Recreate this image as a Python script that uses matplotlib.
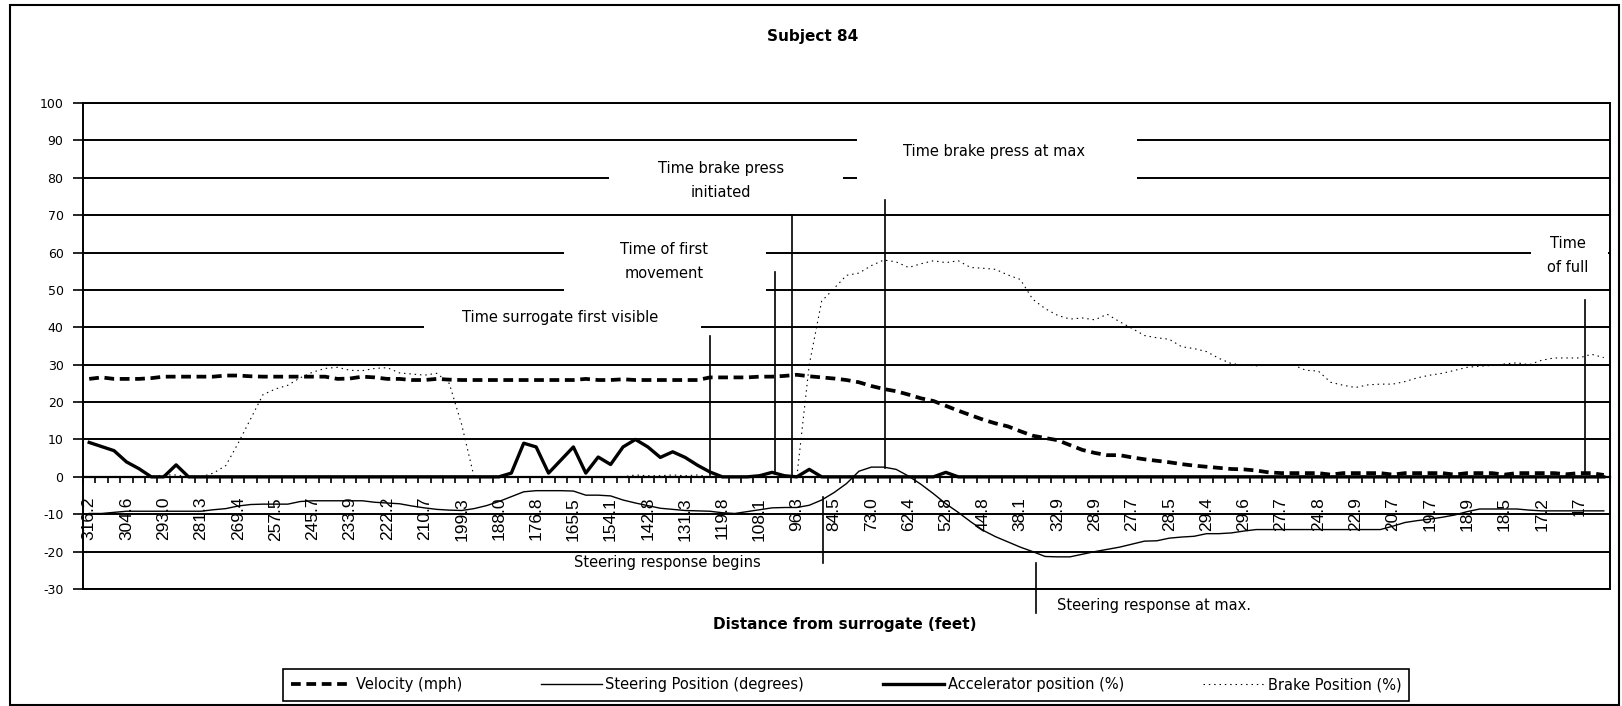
import numpy as np
import matplotlib
matplotlib.use("Agg")
import matplotlib.pyplot as plt
from matplotlib.patches import Rectangle

plt.rcParams["axes.unicode_minus"] = False

# distance from surrogate (feet), one label for every third sample
distance_labels = ["316.2", "304.6", "293.0", "281.3", "269.4", "257.5", "245.7", "233.9",
                   "222.2", "210.7", "199.3", "188.0", "176.8", "165.5", "154.1", "142.8",
                   "131.3", "119.8", "108.1", "96.3", "84.5", "73.0", "62.4", "52.8",
                   "44.8", "38.1", "32.9", "28.9", "27.7", "28.5", "29.4", "29.6",
                   "27.7", "24.8", "22.9", "20.7", "19.7", "18.9", "18.5", "17.2", "17"]

velocity = [26.2, 26.6, 26.2, 26.2, 26.2, 26.4, 26.8, 26.8, 26.8, 26.8,
            26.8, 27.1, 27.1, 26.9, 26.8, 26.8, 26.8, 26.8, 26.8, 26.8,
            26.2, 26.3, 26.8, 26.6, 26.2, 26.2, 25.9, 25.9, 26.2, 26.0,
            25.9, 25.9, 25.9, 25.9, 25.9, 25.9, 25.9, 25.9, 25.9, 25.9,
            26.2, 25.9, 25.9, 26.1, 25.9, 25.9, 25.9, 25.9, 25.9, 25.9,
            26.6, 26.6, 26.6, 26.6, 26.8, 26.8, 27.0, 27.3, 26.9, 26.6,
            26.3, 25.9, 25.3, 24.3, 23.5, 22.9, 22.0, 21.0, 20.3, 19.0,
            17.7, 16.5, 15.3, 14.3, 13.5, 12.2, 11.0, 10.4, 9.8, 8.5,
            7.2, 6.4, 5.8, 5.8, 5.2, 4.7, 4.3, 3.9, 3.4, 3.0,
            2.7, 2.4, 2.1, 2.0, 1.7, 1.2, 1.0, 1.0, 1.0, 1.0,
            0.6, 1.0, 1.0, 1.0, 1.0, 0.6, 1.0, 1.0, 1.0, 1.0,
            0.6, 1.0, 1.0, 1.0, 0.6, 1.0, 1.0, 1.0, 1.0, 0.7,
            1.0, 1.0, 0.5]

steering = [-9.8, -9.8, -9.5, -9.2, -9.2, -9.2, -9.2, -9.2, -9.2, -9.2,
            -8.8, -8.5, -7.8, -7.4, -7.3, -7.3, -7.3, -6.6, -6.4, -6.4,
            -6.4, -6.4, -6.4, -6.8, -7.0, -7.2, -7.8, -8.3, -8.7, -8.9,
            -9.0, -8.5, -7.7, -6.6, -5.3, -4.0, -3.7, -3.7, -3.7, -3.8,
            -4.9, -4.9, -5.1, -6.2, -7.0, -7.7, -8.4, -8.7, -9.0, -9.1,
            -9.2, -9.6, -9.8, -9.3, -8.8, -8.3, -8.2, -8.2, -7.6, -6.2,
            -4.2, -1.8, 1.5, 2.6, 2.6, 2.0, 0.2, -2.0, -4.5, -7.2,
            -9.5, -12.0, -14.3, -16.0, -17.4, -18.8, -20.0, -21.3, -21.4, -21.4,
            -20.7, -20.0, -19.4, -18.8, -18.0, -17.2, -17.1, -16.4, -16.1, -15.9,
            -15.2, -15.2, -15.0, -14.5, -14.1, -14.1, -14.1, -14.1, -14.1, -14.1,
            -14.1, -14.1, -14.1, -14.1, -14.1, -13.2, -12.2, -11.7, -11.3, -10.8,
            -10.2, -9.3, -8.6, -8.6, -8.6, -8.6, -8.9, -9.1, -9.1, -9.1,
            -9.1, -9.1, -9.1]

accelerator = [9.2, 8.1, 7.0, 4.0, 2.2, 0, 0, 3.2, 0, 0,
               0, 0, 0, 0, 0, 0, 0, 0, 0, 0,
               0, 0, 0, 0, 0, 0, 0, 0, 0, 0,
               0, 0, 0, 0, 1.0, 9.0, 8.0, 1.0, 4.5, 8.0,
               1.0, 5.3, 3.3, 8.0, 10.0, 8.0, 5.2, 6.7, 5.2, 3.1,
               1.3, 0, 0, 0, 0.3, 1.2, 0.3, 0, 2.0, 0,
               0, 0, 0, 0, 0, 0, 0, 0, 0, 1.2,
               0, 0, 0, 0, 0, 0, 0, 0, 0, 0,
               0, 0, 0, 0, 0, 0, 0, 0, 0, 0,
               0, 0, 0, 0, 0, 0, 0, 0, 0, 0,
               0, 0, 0, 0, 0, 0, 0, 0, 0, 0,
               0, 0, 0, 0, 0, 0, 0, 0, 0, 0,
               0, 0, 0]

brake = [0, 0, 0, 0, 0, 0, 0.5, 0.5, 0, 0,
         1.0, 3.0, 9.0, 15.5, 22.0, 23.5, 24.5, 26.5, 28.0, 29.0,
         29.3, 28.5, 28.4, 29.0, 29.2, 27.8, 27.5, 27.2, 27.7, 25.0,
         14.0, 0, 0, 0, 0, 0, 0, 0, 0, 0,
         0, 0, 0, 0, 0.5, 0.3, 0.3, 0.5, 0.3, 0.5,
         0, 0, 0, 0, 0, 0, 0, 0, 30.0, 47.0,
         50.4, 53.9, 54.5, 56.5, 58.0, 57.5, 56.0, 57.0, 57.8, 57.3,
         57.8, 56.0, 55.8, 55.5, 54.0, 52.8, 47.5, 45.0, 43.2, 42.2,
         42.5, 42.0, 43.5, 41.5, 39.7, 37.8, 37.2, 36.8, 34.8, 34.3,
         33.5, 31.7, 30.3, 29.9, 29.7, 29.9, 29.9, 29.9, 28.5, 28.3,
         25.3, 24.5, 23.9, 24.6, 24.8, 24.8, 25.5, 26.5, 27.2, 27.7,
         28.5, 29.3, 29.6, 29.8, 30.2, 30.5, 30.0, 31.2, 31.8, 31.8,
         31.8, 32.8, 31.9]

n = len(velocity)
x = np.arange(n)

W, H = 1622, 706
fig = plt.figure(figsize=(W / 100, H / 100), dpi=100)
ax = fig.add_axes([83 / W, 1 - 589 / H, (1610 - 83) / W, (589 - 103) / H])

# outer chart border
fig.patches.append(Rectangle((10 / W, 1.5 / H), (1619 - 10) / W, (701 - 1.5) / H,
                             transform=fig.transFigure, fill=False,
                             edgecolor="black", linewidth=1.5))

ax.plot(x, velocity, color="black", lw=2.7, ls=(0, (2.6, 1.5)),
        label="Velocity (mph)", zorder=4)
ax.plot(x, steering, color="black", lw=1.0,
        label="Steering Position (degrees)", zorder=3)
ax.plot(x, accelerator, color="black", lw=2.4,
        label="Accelerator position (%)", zorder=4)
ax.plot(x, brake, color="black", lw=0.8, ls=(0, (1.3, 3.5)),
        label="Brake Position (%)", zorder=3)

ax.set_xlim(-0.5, n - 0.5)
ax.set_ylim(-30, 100)
ax.set_yticks(np.arange(-30, 101, 10))
ax.yaxis.grid(True, color="black", lw=1.4)
ax.set_axisbelow(True)
ax.axhline(-30, color="black", lw=1.4, clip_on=False, zorder=0.6)

for side in ["left", "right", "top"]:
    ax.spines[side].set_linewidth(1.4)
ax.spines["bottom"].set_position(("data", 0))
ax.spines["bottom"].set_linewidth(1.6)

ax.set_xticks(x[::3], distance_labels, rotation=90)
ax.set_xticks(np.arange(n + 1) - 0.5, minor=True)
ax.tick_params(axis="x", which="major", length=0, pad=14.5,
               labelsize=12.5, labelfontfamily="Liberation Sans")
ax.tick_params(axis="x", which="minor", length=4.5, width=1.2, direction="out")
ax.tick_params(axis="y", length=7, width=1.2, pad=7, labelsize=9,
               labelfontfamily="DejaVu Sans")

note_font = dict(fontsize=10.5, family="DejaVu Sans", color="black")


def note(text, tx, ty, box=None, ha="center"):
    # white text box that hides the gridlines behind it
    if box is not None:
        x0, x1, y0, y1 = box
        ax.add_patch(Rectangle((x0, y0), x1 - x0, y1 - y0, facecolor="white",
                               edgecolor="none", zorder=1, clip_on=False))
    ax.text(tx, ty, text, ha=ha, va="center", linespacing=1.75,
            zorder=6, clip_on=False, **note_font)


def marker_line(xpos, y0, y1):
    ax.plot([xpos, xpos], [y0, y1], color="black", lw=1.2, zorder=5, clip_on=False)


note("Time surrogate first visible", 37.9, 42.6, box=(26.97, 49.28, 39.8, 45.3))
note("Time of first\nmovement", 46.3, 57.6, box=(38.24, 54.51, 48.1, 65.1))
note("Time brake press\ninitiated", 50.9, 79.2, box=(41.9, 60.7, 72.4, 87.9))
note("Time brake press at max", 72.9, 87.1, box=(61.85, 84.4, 77.7, 92.7))
note("Time\nof full", 119.1, 59.2, box=(116.1, 122.3, 51.8, 67.1))
note("Steering response begins", 46.6, -22.8)
note("Steering response at max.", 77.95, -34.3, ha="left")

marker_line(50.0, 0.5, 37.6)
marker_line(55.24, 0.8, 54.7)
marker_line(56.65, 0.5, 70.0)
marker_line(64.1, 2.5, 74.0)
marker_line(120.5, 1.2, 47.2)
marker_line(59.1, -23.1, -5.4)
marker_line(76.3, -36.5, -23.0)

fig.text(813 / W, 1 - 36 / H, "Subject 84", ha="center", va="center",
         fontsize=11, fontweight="bold", family="DejaVu Sans")
fig.text(845 / W, 1 - 625 / H, "Distance from surrogate (feet)", ha="center",
         va="center", fontsize=11, fontweight="bold", family="DejaVu Sans")

leg = fig.legend(loc="center", bbox_to_anchor=(846 / W, 1 - 685 / H), ncol=4,
                 frameon=True, fancybox=False, framealpha=1, edgecolor="black",
                 handlelength=4.2, handletextpad=0.25, columnspacing=5.4,
                 borderpad=0.55, borderaxespad=0,
                 prop=dict(family="DejaVu Sans", size=10.5))
leg.get_frame().set_linewidth(1.2)

fig.savefig("out.png", dpi=100)
